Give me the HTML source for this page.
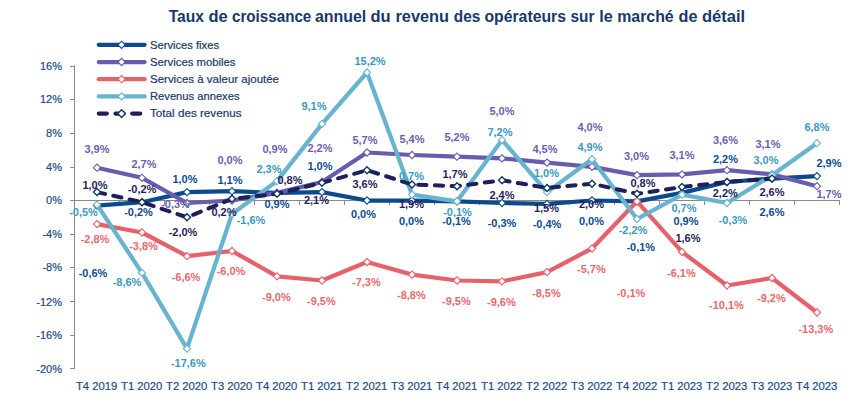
<!DOCTYPE html>
<html><head><meta charset="utf-8"><title>Taux de croissance annuel du revenu</title>
<style>html,body{margin:0;padding:0;background:#fff;}body{width:863px;height:416px;overflow:hidden;font-family:"Liberation Sans",sans-serif;}svg{display:block;}text{font-family:"Liberation Sans",sans-serif;}
.dl{font-size:11.7px;font-weight:bold;text-anchor:middle;}.ax{font-size:11px;fill:#1b4d88;stroke:#1b4d88;stroke-width:0.2px;}.lg{font-size:10.9px;fill:#1c3a6e;stroke:#1c3a6e;stroke-width:0.2px;}</style></head><body>
<svg width="863" height="416" viewBox="0 0 863 416">
<rect width="863" height="416" fill="#fff"/>
<g font-size="16px" font-weight="bold" fill="#17396b">
<text x="168.7" y="22" textLength="35.2" lengthAdjust="spacingAndGlyphs">Taux</text>
<text x="208.5" y="22" textLength="19.2" lengthAdjust="spacingAndGlyphs">de</text>
<text x="232.0" y="22" textLength="79.3" lengthAdjust="spacingAndGlyphs">croissance</text>
<text x="314.9" y="22" textLength="51.3" lengthAdjust="spacingAndGlyphs">annuel</text>
<text x="370.5" y="22" textLength="20.1" lengthAdjust="spacingAndGlyphs">du</text>
<text x="395.5" y="22" textLength="53.5" lengthAdjust="spacingAndGlyphs">revenu</text>
<text x="453.8" y="22" textLength="26.5" lengthAdjust="spacingAndGlyphs">des</text>
<text x="484.4" y="22" textLength="81.6" lengthAdjust="spacingAndGlyphs">opérateurs</text>
<text x="570.5" y="22" textLength="23.9" lengthAdjust="spacingAndGlyphs">sur</text>
<text x="599.2" y="22" textLength="13.4" lengthAdjust="spacingAndGlyphs">le</text>
<text x="617.2" y="22" textLength="56.5" lengthAdjust="spacingAndGlyphs">marché</text>
<text x="678.6" y="22" textLength="18.9" lengthAdjust="spacingAndGlyphs">de</text>
<text x="701.9" y="22" textLength="43.2" lengthAdjust="spacingAndGlyphs">détail</text>
</g>
<g stroke="#8a8a8a" stroke-width="1" fill="none" shape-rendering="crispEdges">
<line x1="74.5" y1="65.3" x2="74.5" y2="368.7"/>
<line x1="70.0" y1="66.5" x2="74.5" y2="66.5"/>
<line x1="70.0" y1="99.5" x2="74.5" y2="99.5"/>
<line x1="70.0" y1="133.5" x2="74.5" y2="133.5"/>
<line x1="70.0" y1="167.5" x2="74.5" y2="167.5"/>
<line x1="70.0" y1="200.5" x2="74.5" y2="200.5"/>
<line x1="70.0" y1="234.5" x2="74.5" y2="234.5"/>
<line x1="70.0" y1="267.5" x2="74.5" y2="267.5"/>
<line x1="70.0" y1="301.5" x2="74.5" y2="301.5"/>
<line x1="70.0" y1="335.5" x2="74.5" y2="335.5"/>
<line x1="70.0" y1="368.5" x2="74.5" y2="368.5"/>
<line x1="74.5" y1="200.5" x2="839.5" y2="200.5"/>
<line x1="119.5" y1="200.5" x2="119.5" y2="204.5"/>
<line x1="164.5" y1="200.5" x2="164.5" y2="204.5"/>
<line x1="209.5" y1="200.5" x2="209.5" y2="204.5"/>
<line x1="254.5" y1="200.5" x2="254.5" y2="204.5"/>
<line x1="299.5" y1="200.5" x2="299.5" y2="204.5"/>
<line x1="344.5" y1="200.5" x2="344.5" y2="204.5"/>
<line x1="389.5" y1="200.5" x2="389.5" y2="204.5"/>
<line x1="434.5" y1="200.5" x2="434.5" y2="204.5"/>
<line x1="479.5" y1="200.5" x2="479.5" y2="204.5"/>
<line x1="524.5" y1="200.5" x2="524.5" y2="204.5"/>
<line x1="569.5" y1="200.5" x2="569.5" y2="204.5"/>
<line x1="614.5" y1="200.5" x2="614.5" y2="204.5"/>
<line x1="659.5" y1="200.5" x2="659.5" y2="204.5"/>
<line x1="704.5" y1="200.5" x2="704.5" y2="204.5"/>
<line x1="749.5" y1="200.5" x2="749.5" y2="204.5"/>
<line x1="794.5" y1="200.5" x2="794.5" y2="204.5"/>
<line x1="839.5" y1="200.5" x2="839.5" y2="204.5"/>
</g>
<text class="ax" x="62" y="69.8" text-anchor="end">16%</text>
<text class="ax" x="62" y="103.4" text-anchor="end">12%</text>
<text class="ax" x="62" y="137.0" text-anchor="end">8%</text>
<text class="ax" x="62" y="170.6" text-anchor="end">4%</text>
<text class="ax" x="62" y="204.2" text-anchor="end">0%</text>
<text class="ax" x="62" y="237.8" text-anchor="end">-4%</text>
<text class="ax" x="62" y="271.4" text-anchor="end">-8%</text>
<text class="ax" x="62" y="305.5" text-anchor="end">-12%</text>
<text class="ax" x="62" y="338.6" text-anchor="end">-16%</text>
<text class="ax" x="62" y="373.2" text-anchor="end">-20%</text>
<text class="ax" x="96.7" y="390" text-anchor="middle" textLength="41.4" lengthAdjust="spacingAndGlyphs">T4 2019</text>
<text class="ax" x="141.7" y="390" text-anchor="middle" textLength="41.4" lengthAdjust="spacingAndGlyphs">T1 2020</text>
<text class="ax" x="186.7" y="390" text-anchor="middle" textLength="41.4" lengthAdjust="spacingAndGlyphs">T2 2020</text>
<text class="ax" x="231.7" y="390" text-anchor="middle" textLength="41.4" lengthAdjust="spacingAndGlyphs">T3 2020</text>
<text class="ax" x="276.7" y="390" text-anchor="middle" textLength="41.4" lengthAdjust="spacingAndGlyphs">T4 2020</text>
<text class="ax" x="321.7" y="390" text-anchor="middle" textLength="41.4" lengthAdjust="spacingAndGlyphs">T1 2021</text>
<text class="ax" x="366.7" y="390" text-anchor="middle" textLength="41.4" lengthAdjust="spacingAndGlyphs">T2 2021</text>
<text class="ax" x="411.7" y="390" text-anchor="middle" textLength="41.4" lengthAdjust="spacingAndGlyphs">T3 2021</text>
<text class="ax" x="456.7" y="390" text-anchor="middle" textLength="41.4" lengthAdjust="spacingAndGlyphs">T4 2021</text>
<text class="ax" x="501.7" y="390" text-anchor="middle" textLength="41.4" lengthAdjust="spacingAndGlyphs">T1 2022</text>
<text class="ax" x="546.7" y="390" text-anchor="middle" textLength="41.4" lengthAdjust="spacingAndGlyphs">T2 2022</text>
<text class="ax" x="591.7" y="390" text-anchor="middle" textLength="41.4" lengthAdjust="spacingAndGlyphs">T3 2022</text>
<text class="ax" x="636.7" y="390" text-anchor="middle" textLength="41.4" lengthAdjust="spacingAndGlyphs">T4 2022</text>
<text class="ax" x="681.7" y="390" text-anchor="middle" textLength="41.4" lengthAdjust="spacingAndGlyphs">T1 2023</text>
<text class="ax" x="726.7" y="390" text-anchor="middle" textLength="41.4" lengthAdjust="spacingAndGlyphs">T2 2023</text>
<text class="ax" x="771.7" y="390" text-anchor="middle" textLength="41.4" lengthAdjust="spacingAndGlyphs">T3 2023</text>
<text class="ax" x="816.7" y="390" text-anchor="middle" textLength="41.4" lengthAdjust="spacingAndGlyphs">T4 2023</text>
<polyline points="97.0,205.6 142.0,202.2 187.0,192.1 232.0,191.2 277.0,192.9 322.0,192.1 367.0,200.5 412.0,200.5 457.0,201.3 502.0,203.0 547.0,203.9 592.0,200.5 637.0,201.3 682.0,192.9 727.0,182.0 772.0,178.6 817.0,176.1" fill="none" stroke="#0b4a8c" stroke-width="4.25" stroke-linecap="round" stroke-linejoin="round"/>
<g fill="#fff" stroke="#0b4a8c" stroke-width="1.1">
<path d="M93.4 205.6L97.0 202.0L100.6 205.6L97.0 209.2Z"/>
<path d="M138.4 202.2L142.0 198.6L145.6 202.2L142.0 205.8Z"/>
<path d="M183.4 192.1L187.0 188.5L190.6 192.1L187.0 195.7Z"/>
<path d="M228.4 191.2L232.0 187.6L235.6 191.2L232.0 194.8Z"/>
<path d="M273.4 192.9L277.0 189.3L280.6 192.9L277.0 196.5Z"/>
<path d="M318.4 192.1L322.0 188.5L325.6 192.1L322.0 195.7Z"/>
<path d="M363.4 200.5L367.0 196.9L370.6 200.5L367.0 204.1Z"/>
<path d="M408.4 200.5L412.0 196.9L415.6 200.5L412.0 204.1Z"/>
<path d="M453.4 201.3L457.0 197.7L460.6 201.3L457.0 204.9Z"/>
<path d="M498.4 203.0L502.0 199.4L505.6 203.0L502.0 206.6Z"/>
<path d="M543.4 203.9L547.0 200.3L550.6 203.9L547.0 207.5Z"/>
<path d="M588.4 200.5L592.0 196.9L595.6 200.5L592.0 204.1Z"/>
<path d="M633.4 201.3L637.0 197.7L640.6 201.3L637.0 204.9Z"/>
<path d="M678.4 192.9L682.0 189.3L685.6 192.9L682.0 196.5Z"/>
<path d="M723.4 182.0L727.0 178.4L730.6 182.0L727.0 185.6Z"/>
<path d="M768.4 178.6L772.0 175.0L775.6 178.6L772.0 182.2Z"/>
<path d="M813.4 176.1L817.0 172.5L820.6 176.1L817.0 179.7Z"/>
</g>
<polyline points="97.0,167.7 142.0,177.8 187.0,203.0 232.0,200.5 277.0,192.9 322.0,182.0 367.0,152.5 412.0,155.0 457.0,156.7 502.0,158.4 547.0,162.6 592.0,166.8 637.0,175.2 682.0,174.4 727.0,170.2 772.0,174.4 817.0,186.2" fill="none" stroke="#675cad" stroke-width="4.25" stroke-linecap="round" stroke-linejoin="round"/>
<g fill="#fff" stroke="#675cad" stroke-width="1.1">
<path d="M93.4 167.7L97.0 164.1L100.6 167.7L97.0 171.3Z"/>
<path d="M138.4 177.8L142.0 174.2L145.6 177.8L142.0 181.4Z"/>
<path d="M183.4 203.0L187.0 199.4L190.6 203.0L187.0 206.6Z"/>
<path d="M228.4 200.5L232.0 196.9L235.6 200.5L232.0 204.1Z"/>
<path d="M273.4 192.9L277.0 189.3L280.6 192.9L277.0 196.5Z"/>
<path d="M318.4 182.0L322.0 178.4L325.6 182.0L322.0 185.6Z"/>
<path d="M363.4 152.5L367.0 148.9L370.6 152.5L367.0 156.1Z"/>
<path d="M408.4 155.0L412.0 151.4L415.6 155.0L412.0 158.6Z"/>
<path d="M453.4 156.7L457.0 153.1L460.6 156.7L457.0 160.3Z"/>
<path d="M498.4 158.4L502.0 154.8L505.6 158.4L502.0 162.0Z"/>
<path d="M543.4 162.6L547.0 159.0L550.6 162.6L547.0 166.2Z"/>
<path d="M588.4 166.8L592.0 163.2L595.6 166.8L592.0 170.4Z"/>
<path d="M633.4 175.2L637.0 171.6L640.6 175.2L637.0 178.8Z"/>
<path d="M678.4 174.4L682.0 170.8L685.6 174.4L682.0 178.0Z"/>
<path d="M723.4 170.2L727.0 166.6L730.6 170.2L727.0 173.8Z"/>
<path d="M768.4 174.4L772.0 170.8L775.6 174.4L772.0 178.0Z"/>
<path d="M813.4 186.2L817.0 182.6L820.6 186.2L817.0 189.8Z"/>
</g>
<polyline points="97.0,224.1 142.0,232.5 187.0,256.1 232.0,251.0 277.0,276.3 322.0,280.5 367.0,262.0 412.0,274.6 457.0,280.5 502.0,281.3 547.0,272.1 592.0,248.5 637.0,201.3 682.0,251.9 727.0,285.5 772.0,278.0 817.0,312.5" fill="none" stroke="#e5626a" stroke-width="4.25" stroke-linecap="round" stroke-linejoin="round"/>
<g fill="#fff" stroke="#e5626a" stroke-width="1.1">
<path d="M93.4 224.1L97.0 220.5L100.6 224.1L97.0 227.7Z"/>
<path d="M138.4 232.5L142.0 228.9L145.6 232.5L142.0 236.1Z"/>
<path d="M183.4 256.1L187.0 252.5L190.6 256.1L187.0 259.7Z"/>
<path d="M228.4 251.0L232.0 247.4L235.6 251.0L232.0 254.6Z"/>
<path d="M273.4 276.3L277.0 272.7L280.6 276.3L277.0 279.9Z"/>
<path d="M318.4 280.5L322.0 276.9L325.6 280.5L322.0 284.1Z"/>
<path d="M363.4 262.0L367.0 258.4L370.6 262.0L367.0 265.6Z"/>
<path d="M408.4 274.6L412.0 271.0L415.6 274.6L412.0 278.2Z"/>
<path d="M453.4 280.5L457.0 276.9L460.6 280.5L457.0 284.1Z"/>
<path d="M498.4 281.3L502.0 277.7L505.6 281.3L502.0 284.9Z"/>
<path d="M543.4 272.1L547.0 268.5L550.6 272.1L547.0 275.7Z"/>
<path d="M588.4 248.5L592.0 244.9L595.6 248.5L592.0 252.1Z"/>
<path d="M633.4 201.3L637.0 197.7L640.6 201.3L637.0 204.9Z"/>
<path d="M678.4 251.9L682.0 248.3L685.6 251.9L682.0 255.5Z"/>
<path d="M723.4 285.5L727.0 281.9L730.6 285.5L727.0 289.1Z"/>
<path d="M768.4 278.0L772.0 274.4L775.6 278.0L772.0 281.6Z"/>
<path d="M813.4 312.5L817.0 308.9L820.6 312.5L817.0 316.1Z"/>
</g>
<polyline points="97.0,204.7 142.0,272.9 187.0,348.7 232.0,214.0 277.0,181.1 322.0,123.9 367.0,72.5 412.0,194.6 457.0,201.3 502.0,139.9 547.0,192.1 592.0,159.2 637.0,219.0 682.0,194.6 727.0,203.0 772.0,175.2 817.0,143.2" fill="none" stroke="#68b4d0" stroke-width="4.25" stroke-linecap="round" stroke-linejoin="round"/>
<g fill="#fff" stroke="#68b4d0" stroke-width="1.1">
<path d="M93.4 204.7L97.0 201.1L100.6 204.7L97.0 208.3Z"/>
<path d="M138.4 272.9L142.0 269.3L145.6 272.9L142.0 276.5Z"/>
<path d="M183.4 348.7L187.0 345.1L190.6 348.7L187.0 352.3Z"/>
<path d="M228.4 214.0L232.0 210.4L235.6 214.0L232.0 217.6Z"/>
<path d="M273.4 181.1L277.0 177.5L280.6 181.1L277.0 184.7Z"/>
<path d="M318.4 123.9L322.0 120.3L325.6 123.9L322.0 127.5Z"/>
<path d="M363.4 72.5L367.0 68.9L370.6 72.5L367.0 76.1Z"/>
<path d="M408.4 194.6L412.0 191.0L415.6 194.6L412.0 198.2Z"/>
<path d="M453.4 201.3L457.0 197.7L460.6 201.3L457.0 204.9Z"/>
<path d="M498.4 139.9L502.0 136.3L505.6 139.9L502.0 143.5Z"/>
<path d="M543.4 192.1L547.0 188.5L550.6 192.1L547.0 195.7Z"/>
<path d="M588.4 159.2L592.0 155.6L595.6 159.2L592.0 162.8Z"/>
<path d="M633.4 219.0L637.0 215.4L640.6 219.0L637.0 222.6Z"/>
<path d="M678.4 194.6L682.0 191.0L685.6 194.6L682.0 198.2Z"/>
<path d="M723.4 203.0L727.0 199.4L730.6 203.0L727.0 206.6Z"/>
<path d="M768.4 175.2L772.0 171.6L775.6 175.2L772.0 178.8Z"/>
<path d="M813.4 143.2L817.0 139.6L820.6 143.2L817.0 146.8Z"/>
</g>
<polyline points="97.0,192.1 142.0,202.2 187.0,217.3 232.0,198.8 277.0,193.8 322.0,182.8 367.0,170.2 412.0,184.5 457.0,186.2 502.0,180.3 547.0,187.9 592.0,183.7 637.0,193.8 682.0,187.0 727.0,182.0 772.0,178.6" fill="none" stroke="#1f1f5a" stroke-width="4.0" stroke-linecap="round" stroke-linejoin="round" stroke-dasharray="8.3 8.4"/>
<g fill="#fff" stroke="#10385c" stroke-width="1.4">
<path d="M93.5 192.1L97.0 188.6L100.5 192.1L97.0 195.6Z"/>
<path d="M138.5 202.2L142.0 198.7L145.5 202.2L142.0 205.7Z"/>
<path d="M183.5 217.3L187.0 213.8L190.5 217.3L187.0 220.8Z"/>
<path d="M228.5 198.8L232.0 195.3L235.5 198.8L232.0 202.3Z"/>
<path d="M273.5 193.8L277.0 190.3L280.5 193.8L277.0 197.3Z"/>
<path d="M318.5 182.8L322.0 179.3L325.5 182.8L322.0 186.3Z"/>
<path d="M363.5 170.2L367.0 166.7L370.5 170.2L367.0 173.7Z"/>
<path d="M408.5 184.5L412.0 181.0L415.5 184.5L412.0 188.0Z"/>
<path d="M453.5 186.2L457.0 182.7L460.5 186.2L457.0 189.7Z"/>
<path d="M498.5 180.3L502.0 176.8L505.5 180.3L502.0 183.8Z"/>
<path d="M543.5 187.9L547.0 184.4L550.5 187.9L547.0 191.4Z"/>
<path d="M588.5 183.7L592.0 180.2L595.5 183.7L592.0 187.2Z"/>
<path d="M633.5 193.8L637.0 190.3L640.5 193.8L637.0 197.3Z"/>
<path d="M678.5 187.0L682.0 183.5L685.5 187.0L682.0 190.5Z"/>
<path d="M723.5 182.0L727.0 178.5L730.5 182.0L727.0 185.5Z"/>
<path d="M768.5 178.6L772.0 175.1L775.5 178.6L772.0 182.1Z"/>
</g>
<line x1="98.8" y1="44.8" x2="144.6" y2="44.8" stroke="#0b4a8c" stroke-width="4.25" stroke-linecap="round"/>
<path d="M118.0 44.8L121.6 41.2L125.2 44.8L121.6 48.4Z" fill="#fff" stroke="#0b4a8c" stroke-width="1.1"/>
<text class="lg" x="150" y="48.5" textLength="69" lengthAdjust="spacingAndGlyphs">Services fixes</text>
<line x1="98.8" y1="62.0" x2="144.6" y2="62.0" stroke="#675cad" stroke-width="4.25" stroke-linecap="round"/>
<path d="M118.0 62.0L121.6 58.4L125.2 62.0L121.6 65.6Z" fill="#fff" stroke="#675cad" stroke-width="1.1"/>
<text class="lg" x="150" y="65.7" textLength="85.5" lengthAdjust="spacingAndGlyphs">Services mobiles</text>
<line x1="98.8" y1="79.2" x2="144.6" y2="79.2" stroke="#e5626a" stroke-width="4.25" stroke-linecap="round"/>
<path d="M118.0 79.2L121.6 75.6L125.2 79.2L121.6 82.8Z" fill="#fff" stroke="#e5626a" stroke-width="1.1"/>
<text class="lg" x="150" y="82.9" textLength="129" lengthAdjust="spacingAndGlyphs">Services à valeur ajoutée</text>
<line x1="98.8" y1="96.4" x2="144.6" y2="96.4" stroke="#68b4d0" stroke-width="4.25" stroke-linecap="round"/>
<path d="M118.0 96.4L121.6 92.8L125.2 96.4L121.6 100.0Z" fill="#fff" stroke="#68b4d0" stroke-width="1.1"/>
<text class="lg" x="150" y="100.1" textLength="89.5" lengthAdjust="spacingAndGlyphs">Revenus annexes</text>
<line x1="98.8" y1="113.6" x2="144.6" y2="113.6" stroke="#1f1f5a" stroke-width="4.25" stroke-linecap="round" stroke-dasharray="8 8.7"/>
<path d="M117.8 113.6L121.6 109.8L125.4 113.6L121.6 117.4Z" fill="#fff" stroke="#10385c" stroke-width="1.4"/>
<text class="lg" x="150" y="117.3" textLength="91.5" lengthAdjust="spacingAndGlyphs">Total des revenus</text>
<g class="dl" fill="#0f4c8f">
<text x="93.0" y="276.5" textLength="28.7" lengthAdjust="spacingAndGlyphs">-0,6%</text>
<text x="138.5" y="216.0" textLength="28.7" lengthAdjust="spacingAndGlyphs">-0,2%</text>
<text x="185.0" y="183.0" textLength="25.1" lengthAdjust="spacingAndGlyphs">1,0%</text>
<text x="230.0" y="183.5" textLength="25.1" lengthAdjust="spacingAndGlyphs">1,1%</text>
<text x="277.0" y="208.0" textLength="25.1" lengthAdjust="spacingAndGlyphs">0,9%</text>
<text x="320.0" y="169.5" textLength="25.1" lengthAdjust="spacingAndGlyphs">1,0%</text>
<text x="363.5" y="217.5" textLength="25.1" lengthAdjust="spacingAndGlyphs">0,0%</text>
<text x="411.5" y="224.5" textLength="25.1" lengthAdjust="spacingAndGlyphs">0,0%</text>
<text x="456.5" y="224.5" textLength="28.7" lengthAdjust="spacingAndGlyphs">-0,1%</text>
<text x="502.0" y="226.5" textLength="28.7" lengthAdjust="spacingAndGlyphs">-0,3%</text>
<text x="547.0" y="227.5" textLength="28.7" lengthAdjust="spacingAndGlyphs">-0,4%</text>
<text x="591.5" y="225.0" textLength="25.1" lengthAdjust="spacingAndGlyphs">0,0%</text>
<text x="640.8" y="250.8" textLength="28.7" lengthAdjust="spacingAndGlyphs">-0,1%</text>
<text x="686.0" y="224.5" textLength="25.1" lengthAdjust="spacingAndGlyphs">0,9%</text>
<text x="725.5" y="162.8" textLength="25.1" lengthAdjust="spacingAndGlyphs">2,2%</text>
<text x="772.0" y="215.5" textLength="25.1" lengthAdjust="spacingAndGlyphs">2,6%</text>
<text x="829.0" y="166.5" textLength="25.1" lengthAdjust="spacingAndGlyphs">2,9%</text>
</g>
<g class="dl" fill="#6a5fb0">
<text x="97.0" y="153.0" textLength="25.1" lengthAdjust="spacingAndGlyphs">3,9%</text>
<text x="144.0" y="167.5" textLength="25.1" lengthAdjust="spacingAndGlyphs">2,7%</text>
<text x="175.5" y="208.0" textLength="28.7" lengthAdjust="spacingAndGlyphs">-0,3%</text>
<text x="230.0" y="163.5" textLength="25.1" lengthAdjust="spacingAndGlyphs">0,0%</text>
<text x="275.0" y="153.0" textLength="25.1" lengthAdjust="spacingAndGlyphs">0,9%</text>
<text x="320.0" y="151.5" textLength="25.1" lengthAdjust="spacingAndGlyphs">2,2%</text>
<text x="365.0" y="143.5" textLength="25.1" lengthAdjust="spacingAndGlyphs">5,7%</text>
<text x="412.0" y="142.5" textLength="25.1" lengthAdjust="spacingAndGlyphs">5,4%</text>
<text x="457.0" y="141.0" textLength="25.1" lengthAdjust="spacingAndGlyphs">5,2%</text>
<text x="502.0" y="115.0" textLength="25.1" lengthAdjust="spacingAndGlyphs">5,0%</text>
<text x="545.0" y="153.0" textLength="25.1" lengthAdjust="spacingAndGlyphs">4,5%</text>
<text x="590.0" y="130.5" textLength="25.1" lengthAdjust="spacingAndGlyphs">4,0%</text>
<text x="636.5" y="159.5" textLength="25.1" lengthAdjust="spacingAndGlyphs">3,0%</text>
<text x="682.0" y="158.5" textLength="25.1" lengthAdjust="spacingAndGlyphs">3,1%</text>
<text x="725.5" y="143.5" textLength="25.1" lengthAdjust="spacingAndGlyphs">3,6%</text>
<text x="768.0" y="147.5" textLength="25.1" lengthAdjust="spacingAndGlyphs">3,1%</text>
<text x="829.0" y="197.5" textLength="25.1" lengthAdjust="spacingAndGlyphs">1,7%</text>
</g>
<g class="dl" fill="#e8686e">
<text x="95.0" y="242.5" textLength="28.7" lengthAdjust="spacingAndGlyphs">-2,8%</text>
<text x="143.5" y="249.5" textLength="28.7" lengthAdjust="spacingAndGlyphs">-3,8%</text>
<text x="186.0" y="281.0" textLength="28.7" lengthAdjust="spacingAndGlyphs">-6,6%</text>
<text x="231.0" y="275.0" textLength="28.7" lengthAdjust="spacingAndGlyphs">-6,0%</text>
<text x="276.4" y="301.0" textLength="28.7" lengthAdjust="spacingAndGlyphs">-9,0%</text>
<text x="321.4" y="305.2" textLength="28.7" lengthAdjust="spacingAndGlyphs">-9,5%</text>
<text x="366.4" y="286.0" textLength="28.7" lengthAdjust="spacingAndGlyphs">-7,3%</text>
<text x="411.4" y="299.0" textLength="28.7" lengthAdjust="spacingAndGlyphs">-8,8%</text>
<text x="456.4" y="305.2" textLength="28.7" lengthAdjust="spacingAndGlyphs">-9,5%</text>
<text x="501.4" y="306.0" textLength="28.7" lengthAdjust="spacingAndGlyphs">-9,6%</text>
<text x="546.4" y="296.8" textLength="28.7" lengthAdjust="spacingAndGlyphs">-8,5%</text>
<text x="591.4" y="272.8" textLength="28.7" lengthAdjust="spacingAndGlyphs">-5,7%</text>
<text x="631.0" y="296.8" textLength="28.7" lengthAdjust="spacingAndGlyphs">-0,1%</text>
<text x="681.4" y="276.8" textLength="28.7" lengthAdjust="spacingAndGlyphs">-6,1%</text>
<text x="726.5" y="309.2" textLength="34.8" lengthAdjust="spacingAndGlyphs">-10,1%</text>
<text x="771.4" y="301.5" textLength="28.7" lengthAdjust="spacingAndGlyphs">-9,2%</text>
<text x="815.8" y="332.8" textLength="34.8" lengthAdjust="spacingAndGlyphs">-13,3%</text>
</g>
<g class="dl" fill="#3a9abd">
<text x="83.5" y="215.5" textLength="28.7" lengthAdjust="spacingAndGlyphs">-0,5%</text>
<text x="127.0" y="285.5" textLength="28.7" lengthAdjust="spacingAndGlyphs">-8,6%</text>
<text x="188.3" y="366.7" textLength="34.8" lengthAdjust="spacingAndGlyphs">-17,6%</text>
<text x="251.0" y="224.0" textLength="28.7" lengthAdjust="spacingAndGlyphs">-1,6%</text>
<text x="269.0" y="173.0" textLength="25.1" lengthAdjust="spacingAndGlyphs">2,3%</text>
<text x="314.0" y="109.5" textLength="25.1" lengthAdjust="spacingAndGlyphs">9,1%</text>
<text x="370.0" y="64.5" textLength="31.2" lengthAdjust="spacingAndGlyphs">15,2%</text>
<text x="411.5" y="180.0" textLength="25.1" lengthAdjust="spacingAndGlyphs">0,7%</text>
<text x="457.5" y="216.0" textLength="28.7" lengthAdjust="spacingAndGlyphs">-0,1%</text>
<text x="500.0" y="136.0" textLength="25.1" lengthAdjust="spacingAndGlyphs">7,2%</text>
<text x="546.5" y="176.5" textLength="25.1" lengthAdjust="spacingAndGlyphs">1,0%</text>
<text x="590.0" y="150.8" textLength="25.1" lengthAdjust="spacingAndGlyphs">4,9%</text>
<text x="633.0" y="233.7" textLength="28.7" lengthAdjust="spacingAndGlyphs">-2,2%</text>
<text x="684.0" y="211.5" textLength="25.1" lengthAdjust="spacingAndGlyphs">0,7%</text>
<text x="733.0" y="224.0" textLength="28.7" lengthAdjust="spacingAndGlyphs">-0,3%</text>
<text x="766.0" y="163.5" textLength="25.1" lengthAdjust="spacingAndGlyphs">3,0%</text>
<text x="817.0" y="131.0" textLength="25.1" lengthAdjust="spacingAndGlyphs">6,8%</text>
</g>
<g class="dl" fill="#1f1f5a">
<text x="95.0" y="188.9" textLength="25.1" lengthAdjust="spacingAndGlyphs">1,0%</text>
<text x="142.0" y="193.0" textLength="28.7" lengthAdjust="spacingAndGlyphs">-0,2%</text>
<text x="183.0" y="235.7" textLength="28.7" lengthAdjust="spacingAndGlyphs">-2,0%</text>
<text x="224.0" y="216.0" textLength="25.1" lengthAdjust="spacingAndGlyphs">0,2%</text>
<text x="290.0" y="183.5" textLength="25.1" lengthAdjust="spacingAndGlyphs">0,8%</text>
<text x="316.5" y="203.5" textLength="25.1" lengthAdjust="spacingAndGlyphs">2,1%</text>
<text x="365.0" y="188.0" textLength="25.1" lengthAdjust="spacingAndGlyphs">3,6%</text>
<text x="411.5" y="208.0" textLength="25.1" lengthAdjust="spacingAndGlyphs">1,9%</text>
<text x="455.0" y="178.0" textLength="25.1" lengthAdjust="spacingAndGlyphs">1,7%</text>
<text x="502.0" y="198.5" textLength="25.1" lengthAdjust="spacingAndGlyphs">2,4%</text>
<text x="546.5" y="211.5" textLength="25.1" lengthAdjust="spacingAndGlyphs">1,5%</text>
<text x="591.5" y="208.0" textLength="25.1" lengthAdjust="spacingAndGlyphs">2,0%</text>
<text x="643.0" y="186.5" textLength="25.1" lengthAdjust="spacingAndGlyphs">0,8%</text>
<text x="688.0" y="241.5" textLength="25.1" lengthAdjust="spacingAndGlyphs">1,6%</text>
<text x="725.3" y="197.0" textLength="25.1" lengthAdjust="spacingAndGlyphs">2,2%</text>
<text x="772.0" y="196.0" textLength="25.1" lengthAdjust="spacingAndGlyphs">2,6%</text>
</g>
</svg></body></html>
